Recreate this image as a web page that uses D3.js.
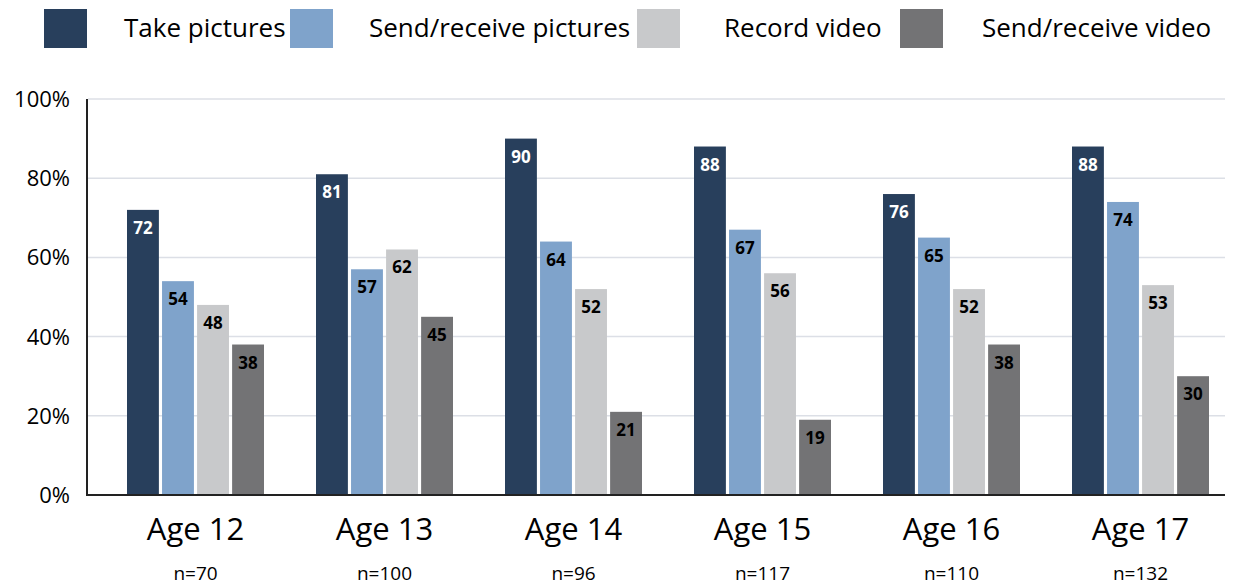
<!DOCTYPE html>
<html>
<head>
<meta charset="utf-8">
<script src="https://cdn.jsdelivr.net/npm/d3@7"></script>
<style>
  body { margin: 0; background: #fff; }
  svg { display: block; font-family: "Open Sans", "Noto Sans", sans-serif; }
</style>
</head>
<body>
<div class="chart"></div>
<script>
// data
const ages = ["Age 12", "Age 13", "Age 14", "Age 15", "Age 16", "Age 17"]
const sizes = ["n=70", "n=100", "n=96", "n=117", "n=110", "n=132"]
const seriesNames = ["Take pictures", "Send/receive pictures", "Record video", "Send/receive video"]
const takePictures = [72, 81, 90, 88, 76, 88]
const sendPictures = [54, 57, 64, 67, 65, 74]
const recordVideo = [48, 62, 52, 56, 52, 53]
const sendVideo = [38, 45, 21, 19, 38, 30]
const yTicks = [0, 20, 40, 60, 80, 100]

const colors = ["#283f5c", "#7fa3cb", "#c8c9cb", "#737375"]
const labelColors = ["#ffffff", "#000000", "#000000", "#000000"]
const series = [takePictures, sendPictures, recordVideo, sendVideo]

const width = 1233, height = 586
const svg = d3.select(".chart").append("svg")
	.attr("width", width)
	.attr("height", height)

let x = d3.scaleBand().domain(ages).range([101, 1235]).paddingInner(0).paddingOuter(0)
let inner = d3.scaleBand().domain(d3.range(4)).range([-68.5, 68.5]).paddingInner(0.09).paddingOuter(0)
let y = d3.scaleLinear().domain([0, 100]).range([495, 99])

// gridlines
svg.append("g")
	.selectAll("line")
	.data(yTicks.filter(d => d > 0))
	.join("line")
	.attr("x1", 88).attr("x2", 1225)
	.attr("y1", d => y(d)).attr("y2", d => y(d))
	.attr("stroke", "#dcdfe6")
	.attr("stroke-width", 1.5)

// y tick labels
svg.append("g")
	.selectAll("text")
	.data(yTicks)
	.join("text")
	.attr("x", 70)
	.attr("y", d => y(d) + 8)
	.attr("text-anchor", "end")
	.style("font-size", "22px")
	.attr("fill", "#000")
	.text(d => d + "%")

// bars
const groups = svg.append("g")
	.selectAll("g")
	.data(ages)
	.join("g")
	.attr("transform", d => `translate(${x(d) + x.bandwidth() / 2},0)`)

groups.selectAll("rect")
	.data((d, i) => series.map((s, k) => ({ k: k, v: s[i] })))
	.join("rect")
	.attr("x", d => inner(d.k))
	.attr("width", inner.bandwidth())
	.attr("y", d => y(d.v))
	.attr("height", d => y(0) - y(d.v))
	.attr("fill", d => colors[d.k])

groups.selectAll("text.val")
	.data((d, i) => series.map((s, k) => ({ k: k, v: s[i] })))
	.join("text")
	.attr("class", "val")
	.attr("x", d => inner(d.k) + inner.bandwidth() / 2)
	.attr("y", d => y(d.v) + 24)
	.attr("text-anchor", "middle")
	.style("font-size", "17px")
	.style("font-weight", "bold")
	.attr("fill", d => labelColors[d.k])
	.text(d => d.v)

// axes lines
svg.append("line")
	.attr("x1", 87).attr("x2", 87)
	.attr("y1", 99).attr("y2", 496)
	.attr("stroke", "#222").attr("stroke-width", 2)
svg.append("line")
	.attr("x1", 86).attr("x2", 1225)
	.attr("y1", 495).attr("y2", 495)
	.attr("stroke", "#222").attr("stroke-width", 2)

// category labels
groups.append("text")
	.attr("y", 540)
	.attr("text-anchor", "middle")
	.style("font-size", "31px")
	.attr("fill", "#000")
	.text(d => d)

groups.append("text")
	.attr("y", 580)
	.attr("text-anchor", "middle")
	.style("font-size", "19px")
	.attr("fill", "#000")
	.text((d, i) => sizes[i])

// legend
const legendX = [44, 290, 637, 900]
const legendTextX = [124, 369, 724, 982]
const legend = svg.append("g")
	.selectAll("g")
	.data(seriesNames)
	.join("g")
legend.append("rect")
	.attr("x", (d, i) => legendX[i])
	.attr("y", 9)
	.attr("width", 43)
	.attr("height", 39)
	.attr("fill", (d, i) => colors[i])
legend.append("text")
	.attr("x", (d, i) => legendTextX[i])
	.attr("y", 37)
	.style("font-size", "26px")
	.attr("fill", "#000")
	.text(d => d)
</script>
</body>
</html>
